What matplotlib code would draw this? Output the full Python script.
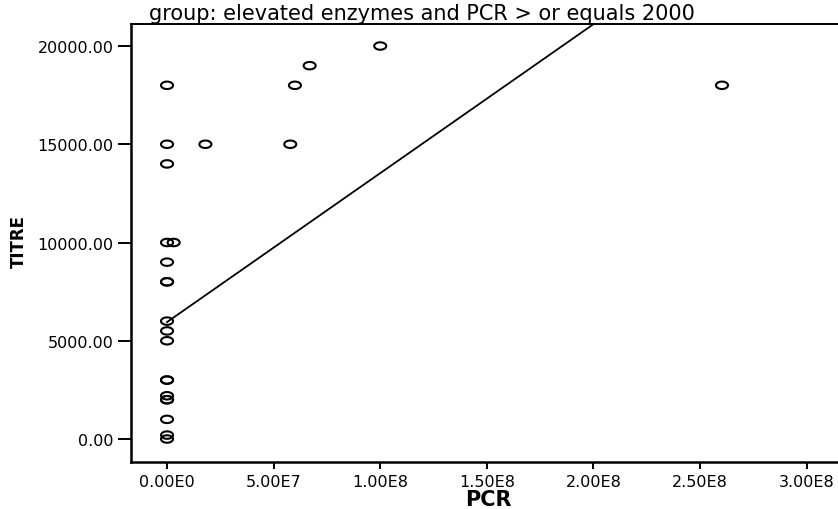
import numpy as np
import matplotlib
matplotlib.use("Agg")
import matplotlib.pyplot as plt
from matplotlib.path import Path

# ---- data ----
pcr = [2.0e3, 2.0e3, 2.0e3, 2.0e3, 2.0e3, 2.0e3, 2.0e3, 2.0e3, 2.0e3,
       2.0e3, 2.0e3, 2.0e3, 2.0e3, 2.0e3, 2.0e3, 2.0e3, 2.0e3, 2.0e3,
       3.1e6, 1.8e7, 5.78e7, 6.0e7, 6.69e7, 1.0e8, 2.603e8]
titre = [18000, 15000, 14000, 10000, 9000, 8000, 8000, 6000, 5500,
         5000, 3000, 3000, 2200, 2000, 2000, 1000, 200, 0,
         10000, 15000, 15000, 18000, 19000, 20000, 18000]
fit_intercept = 5950.0
fit_slope = 7.58e-5

x_ticks = [0, 5e7, 1e8, 1.5e8, 2e8, 2.5e8, 3e8]
x_ticklabels = ["0.00E0", "5.00E7", "1.00E8", "1.50E8", "2.00E8", "2.50E8", "3.00E8"]
y_ticks = [0, 5000, 10000, 15000, 20000]
y_ticklabels = ["0.00", "5000.00", "10000.00", "15000.00", "20000.00"]

title = "group: elevated enzymes and PCR > or equals 2000"
xlabel = "PCR"
ylabel = "TITRE"

# ---- figure ----
plt.rcParams['font.family'] = ['DejaVu Sans']
W, H = 838, 510
fig = plt.figure(figsize=(W / 100, H / 100), dpi=100)
L, R, T, B = 131, 845, 25, 463
ax = fig.add_axes([L / W, 1 - B / H, (R - L) / W, (B - T) / H])

t = np.linspace(0, 2 * np.pi, 60)
ell = Path(np.column_stack([np.cos(t), 0.62 * np.sin(t)]), closed=True)

ax.scatter(pcr, titre, marker=ell, s=75, facecolors='none',
           edgecolors='black', linewidths=1.5, zorder=3)

xs = np.array([min(pcr), max(pcr)])
ax.plot(xs, fit_intercept + fit_slope * xs, color='black', lw=1.3, zorder=2)

ax.set_xlim(-1.69e7, 3.18e8)
ax.set_ylim(-1170, 21120)

ax.set_xticks(x_ticks)
ax.set_xticklabels(x_ticklabels, fontsize=11.5)
ax.set_yticks(y_ticks)
ax.set_yticklabels(y_ticklabels, fontsize=11.5)
ax.tick_params(axis='y', length=9.4, width=1.4, pad=3, color='black')
ax.tick_params(axis='x', length=5, width=1.4, pad=4, color='black')

for s in ['left', 'bottom']:
    ax.spines[s].set_linewidth(1.8)
ax.spines['top'].set_linewidth(1.4)
ax.spines['right'].set_visible(False)

ax.set_xlabel(xlabel, fontsize=15, fontweight='bold', labelpad=0)
fig.text(19 / W, 1 - 242 / H, ylabel, rotation=90, fontsize=12,
         fontweight='bold', ha='center', va='center')
fig.text(421.5 / W, 1 - 20 / H, title, fontsize=15, ha='center',
         va='baseline')

fig.savefig("out.png", dpi=100)
